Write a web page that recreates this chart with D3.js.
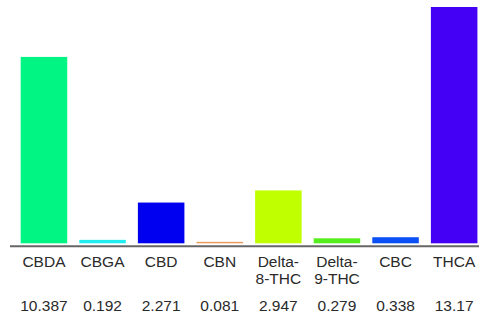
<!DOCTYPE html>
<html><head><meta charset="utf-8">
<script src="https://cdn.jsdelivr.net/npm/d3@7"></script>
<style>body{margin:0;background:#fff;}svg{display:block;}</style>
</head><body>
<svg id="chart" width="479" height="316"></svg>
<script>
const categories = ["CBDA", "CBGA", "CBD", "CBN", "Delta-8-THC", "Delta-9-THC", "CBC", "THCA"];
const labelLines = [["CBDA"], ["CBGA"], ["CBD"], ["CBN"], ["Delta-", "8-THC"], ["Delta-", "9-THC"], ["CBC"], ["THCA"]];
const values = [10.387, 0.192, 2.271, 0.081, 2.947, 0.279, 0.338, 13.17];
const valueLabels = ["10.387", "0.192", "2.271", "0.081", "2.947", "0.279", "0.338", "13.17"];
const colors = ["#00f582", "#22eef0", "#0000f0", "#e89a58", "#bfff00", "#55ee1e", "#0a50f5", "#4400f5"];

const svg = d3.select("#chart");
const baseY = 243.3;
const x = d3.scaleBand().domain(categories).range([14.65, 483.45]).paddingInner(0.206).paddingOuter(0.103);
const y = d3.scaleLinear().domain([0, 13.17]).range([baseY, 7]);

svg.selectAll("rect.bar").data(values).enter().append("rect")
  .attr("class", "bar")
  .attr("x", (d, i) => x(categories[i]))
  .attr("width", x.bandwidth())
  .attr("y", d => y(d))
  .attr("height", d => baseY - y(d))
  .attr("fill", (d, i) => colors[i]);

svg.append("line").attr("x1", 10).attr("x2", 479).attr("y1", 246.3).attr("y2", 246.3)
  .attr("stroke", "#666").attr("stroke-width", 2);

const font = "'Liberation Sans', Arial, Helvetica, sans-serif";
const lab = svg.selectAll("text.cat").data(labelLines).enter().append("text")
  .attr("class", "cat")
  .attr("x", (d, i) => x(categories[i]) + x.bandwidth() / 2)
  .attr("y", 267)
  .attr("text-anchor", "middle")
  .attr("font-family", font).attr("font-size", 15.5).attr("fill", "#2a2a2a");
lab.selectAll("tspan").data(d => d).enter().append("tspan")
  .attr("x", function() { return d3.select(this.parentNode).attr("x"); })
  .attr("dy", (d, i) => i === 0 ? 0 : 16.5)
  .text(d => d);

svg.selectAll("text.val").data(valueLabels).enter().append("text")
  .attr("class", "val")
  .attr("x", (d, i) => x(categories[i]) + x.bandwidth() / 2)
  .attr("y", 310.5)
  .attr("text-anchor", "middle")
  .attr("font-family", font).attr("font-size", 15.5).attr("fill", "#2a2a2a")
  .text(d => d);
</script>
</body></html>
